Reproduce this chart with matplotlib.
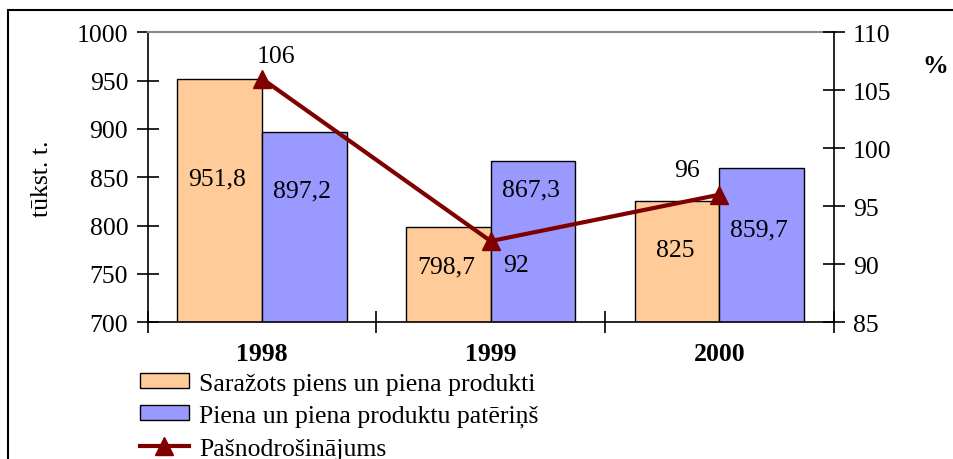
import numpy as np
import matplotlib.pyplot as plt
from matplotlib.patches import Rectangle

years = ["1998", "1999", "2000"]
produced = [951.8, 798.7, 825.0]
consumed = [897.2, 867.3, 859.7]
self_sufficiency = [106, 92, 96]

produced_labels = ["951,8", "798,7", "825"]
consumed_labels = ["897,2", "867,3", "859,7"]
# label heights (left axis units)
produced_label_y = [849, 758, 775]
consumed_label_y = [836, 837, 796]

plt.rcParams['font.family'] = ['Liberation Serif', 'DejaVu Serif']
plt.rcParams['font.size'] = 18.5

fig = plt.figure(figsize=(9.54, 4.6), dpi=100)
ax = fig.add_axes([0.1548, 0.2972, 0.7191, 0.6304])
ax2 = ax.twinx()

x = np.arange(len(years))
w = 0.37
b1 = ax.bar(x - w / 2, produced, w, color="#FFCC99", edgecolor="black", linewidth=1,
            label="Saražots piens un piena produkti", zorder=2)
b2 = ax.bar(x + w / 2, consumed, w, color="#9999FF", edgecolor="black", linewidth=1,
            label="Piena un piena produktu patēriņš", zorder=2)

for i in range(len(years)):
    ax.text(x[i] - w / 2 - 0.01, produced_label_y[i], produced_labels[i], ha="center", va="center")
    ax.text(x[i] + w / 2 - 0.01, consumed_label_y[i], consumed_labels[i], ha="center", va="center")

ax.set_ylim(700, 1000)
ax.set_yticks(np.arange(700, 1001, 50))
ax.set_xlim(-0.5, 2.5)
ax.set_xticks([-0.5, 0.5, 1.5, 2.5])
ax.set_xticklabels([])
ax.set_xticks(x, minor=True)
ax.set_xticklabels(years, minor=True, fontweight="bold")
ax.tick_params(axis="x", which="minor", length=0, pad=14)
ax.tick_params(axis="x", which="major", direction="inout", length=16, width=1.2)
ax.tick_params(axis="y", direction="inout", length=16, width=1.2, pad=6)
ax.set_ylabel("tūkst. t.", labelpad=17)
ax.spines["top"].set_color("#888888")
ax.spines["top"].set_linewidth(1.5)
ax.spines["right"].set_visible(False)
ax.spines["left"].set_linewidth(1.2)
ax.spines["bottom"].set_linewidth(1.2)

ln, = ax2.plot(x, self_sufficiency, color="#800000", linewidth=3, marker="^",
               markersize=13, label="Pašnodrošinājums", zorder=3)
ax2.set_ylim(85, 110)
ax2.set_yticks(np.arange(85, 111, 5))
ax2.tick_params(axis="y", direction="inout", length=16, width=1.2, pad=6)
ax2.spines["top"].set_visible(False)
ax2.spines["left"].set_visible(False)
ax2.spines["bottom"].set_visible(False)
ax2.spines["right"].set_linewidth(1.2)

ax2.text(0.06, 108.0, "106", ha="center", va="center")
ax2.text(1.11, 89.9, "92", ha="center", va="center")
ax2.text(1.86, 98.1, "96", ha="center", va="center")

fig.text(0.98, 0.855, "%", fontweight="bold", ha="center", va="center")

fig.legend([b1, b2, ln], [b1.get_label(), b2.get_label(), ln.get_label()],
           loc="upper left", bbox_to_anchor=(0.1468, 0.188), frameon=False,
           borderpad=0, borderaxespad=0, handlelength=1.9, handleheight=0.55,
           handletextpad=0.4, labelspacing=0.4)

fig.patches.append(Rectangle((8 / 954, -0.05), 1.0, 1.05 - 11 / 460,
                             transform=fig.transFigure, fill=False,
                             edgecolor="black", linewidth=1.5))

fig.savefig("out.png", dpi=100)
